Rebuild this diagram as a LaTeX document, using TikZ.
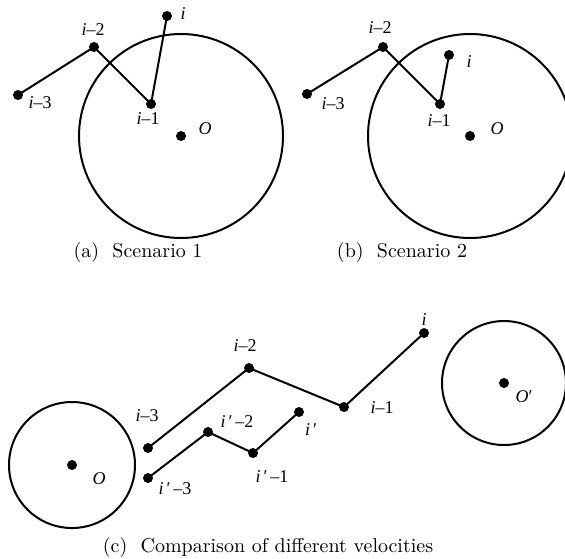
\documentclass[tikz,border=0pt]{standalone}
\usepackage{fontspec}
\newfontfamily\labfont{Liberation Serif}
\begin{document}
\begin{tikzpicture}[x=0.5pt,y=-0.5pt,
  dot/.style={circle,fill=black,inner sep=0pt,minimum size=5pt},
  lab/.style={inner sep=0pt,font=\labfont\fontsize{9}{10}\selectfont},
  captext/.style={inner sep=0pt,font=\fontsize{10}{12}\selectfont},
  seg/.style={line width=1pt,line join=round},
  ring/.style={line width=1pt}]
\useasboundingbox (0,0) rectangle (565,558);
% ---------- (a)
\node[dot] (a3) at (18,95) {};
\node[dot] (a2) at (94,47) {};
\node[dot] (a1) at (151,104) {};
\node[dot] (a0) at (167,16) {};
\node[dot] (aO) at (181,136) {};
\draw[ring] (aO.center) circle[radius=51pt];
\draw[seg] (a3.center) -- (a2.center) -- (a1.center) -- (a0.center);
\node[lab] (la3) at (40,103) {\textit{i}–3};
\node[lab] (la2) at (93,30) {\textit{i}–2};
\node[lab] (la1) at (148,119) {\textit{i}–1};
\node[lab] (la0) at (183,14) {\textit{i}};
\node[lab] (laO) at (205,129) {\textit{O}};
\node[captext] (capa) at (138,252) {(a)\ \ Scenario 1};
% ---------- (b)
\node[dot] (b3) at (307,94) {};
\node[dot] (b2) at (383,47) {};
\node[dot] (b1) at (440,104) {};
\node[dot] (b0) at (449,55) {};
\node[dot] (bO) at (470,136) {};
\draw[ring] (bO.center) circle[radius=51pt];
\draw[seg] (b3.center) -- (b2.center) -- (b1.center) -- (b0.center);
\node[lab] (lb3) at (333,104) {\textit{i}–3};
\node[lab] (lb2) at (380,28) {\textit{i}–2};
\node[lab] (lb1) at (439,121) {\textit{i}–1};
\node[lab] (lb0) at (469,62) {\textit{i}};
\node[lab] (lbO) at (497,129) {\textit{O}};
\node[captext] (capb) at (402,252) {(b)\ \ Scenario 2};
% ---------- (c)
\node[dot] (cO) at (72,465) {};
\draw[ring] (cO.center) circle[radius=31.5pt];
\node[dot] (cO2) at (504,383) {};
\draw[ring] (cO2.center) circle[radius=31pt];
\node[dot] (c3) at (148,448) {};
\node[dot] (c2) at (249,368) {};
\node[dot] (c1) at (344,407) {};
\node[dot] (c0) at (424,333) {};
\node[dot] (d3) at (148,478) {};
\node[dot] (d2) at (208,432) {};
\node[dot] (d1) at (253,453) {};
\node[dot] (d0) at (299,412) {};
\draw[seg] (c3.center) -- (c2.center) -- (c1.center) -- (c0.center);
\draw[seg] (d3.center) -- (d2.center) -- (d1.center) -- (d0.center);
\node[lab] (lcO) at (99,479) {\textit{O}};
\node[lab] (lcO2) at (524,397) {\textit{O}′};
\node[lab] (lc3) at (147,416) {\textit{i}–3};
\node[lab] (lc2) at (245,346) {\textit{i}–2};
\node[lab] (lc1) at (382,408) {\textit{i}–1};
\node[lab] (lc0) at (424,320) {\textit{i}};
\node[lab] (ld3) at (175,489) {\textit{i}\,′\,–3};
\node[lab] (ld2) at (237,422) {\textit{i}\,′\,–2};
\node[lab] (ld1) at (272,477) {\textit{i}\,′\,–1};
\node[lab] (ld0) at (311,430) {\textit{i}\,′};
\node[captext] (capc) at (268,547) {(c)\ \ Comparison of different velocities};
\end{tikzpicture}
\end{document}
